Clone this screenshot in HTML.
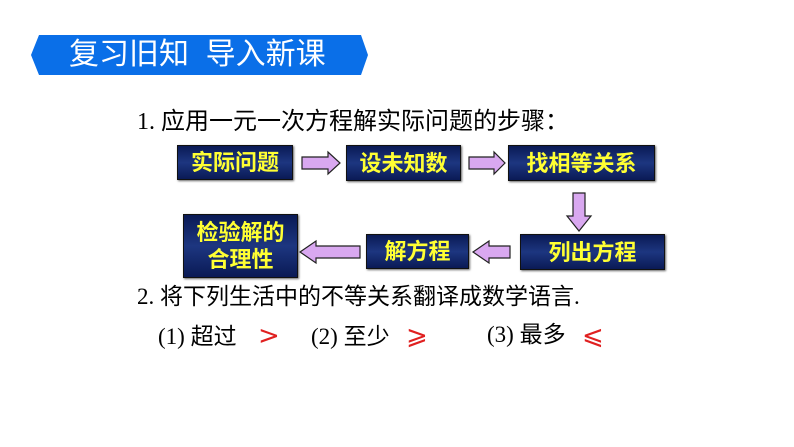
<!DOCTYPE html>
<html><head><meta charset="utf-8"><style>
body{margin:0;width:794px;height:447px;background:#fff;position:relative;overflow:hidden;font-family:"Liberation Serif","Noto Serif CJK SC",serif}
.b{position:absolute;box-sizing:border-box;border:1.5px solid #111;background:linear-gradient(#0a1a55,#1d3680 50%,#0a1a55);color:#ffff33;font-family:"Liberation Sans","Noto Sans CJK SC",sans-serif;font-weight:bold;font-size:22px;display:flex;align-items:center;justify-content:center;text-align:center;line-height:27px;box-shadow:1px 1px 2px #666}
.t{position:absolute;font-size:23px;color:#000;white-space:nowrap;font-family:"Liberation Serif","Noto Sans CJK SC",serif;line-height:26px}
.r{position:absolute;color:#e02020;font-size:26px;font-family:"DejaVu Sans",sans-serif;line-height:30px}
svg{position:absolute;left:0;top:0}
</style></head><body>
<svg width="794" height="447">
<polygon points="39,35 361,35 368,55 361,75 39,75 31,55" fill="#0a6fe8"/>
<g fill="#d9a8f0" stroke="#222" stroke-width="1.2">
<polygon points="302,157 328,157 328,152 340,163 328,174 328,169 302,169"/>
<polygon points="469,157 494,157 494,152 505,163 494,174 494,169 469,169"/>
<polygon points="573,193 585,193 585,216 591,216 579,231 567,216 573,216"/>
<polygon points="510,246 489,246 489,241 473,252 489,263 489,258 510,258"/>
<polygon points="360,246 316,246 316,241 300,252 316,263 316,258 360,258"/>
</g>
</svg>
<div class="t" style="left:69px;top:35px;color:#fff;font-size:30px;font-family:'Liberation Sans','Noto Sans CJK SC',sans-serif;line-height:40px">复习旧知&nbsp;&nbsp;导入新课</div>
<div class="t" style="left:137px;top:109px;font-size:24px">1. 应用一元一次方程解实际问题的步骤：</div>
<div class="b" style="left:177px;top:145px;width:116px;height:35px">实际问题</div>
<div class="b" style="left:346px;top:145px;width:115px;height:36px">设未知数</div>
<div class="b" style="left:508px;top:145px;width:147px;height:36px">找相等关系</div>
<div class="b" style="left:520px;top:234px;width:145px;height:36px">列出方程</div>
<div class="b" style="left:366px;top:234px;width:103px;height:35px">解方程</div>
<div class="b" style="left:183px;top:214px;width:115px;height:64px">检验解的<br>合理性</div>
<div class="t" style="left:137px;top:284px">2. 将下列生活中的不等关系翻译成数学语言.</div>
<div class="t" style="left:158px;top:324px">(1) 超过</div>
<div class="r" style="left:258px;top:321px">&gt;</div>
<div class="t" style="left:311px;top:324px">(2) 至少</div>
<div class="r" style="left:406px;top:321px">⩾</div>
<div class="t" style="left:487px;top:322px">(3) 最多</div>
<div class="r" style="left:582px;top:321px">⩽</div>
</body></html>
